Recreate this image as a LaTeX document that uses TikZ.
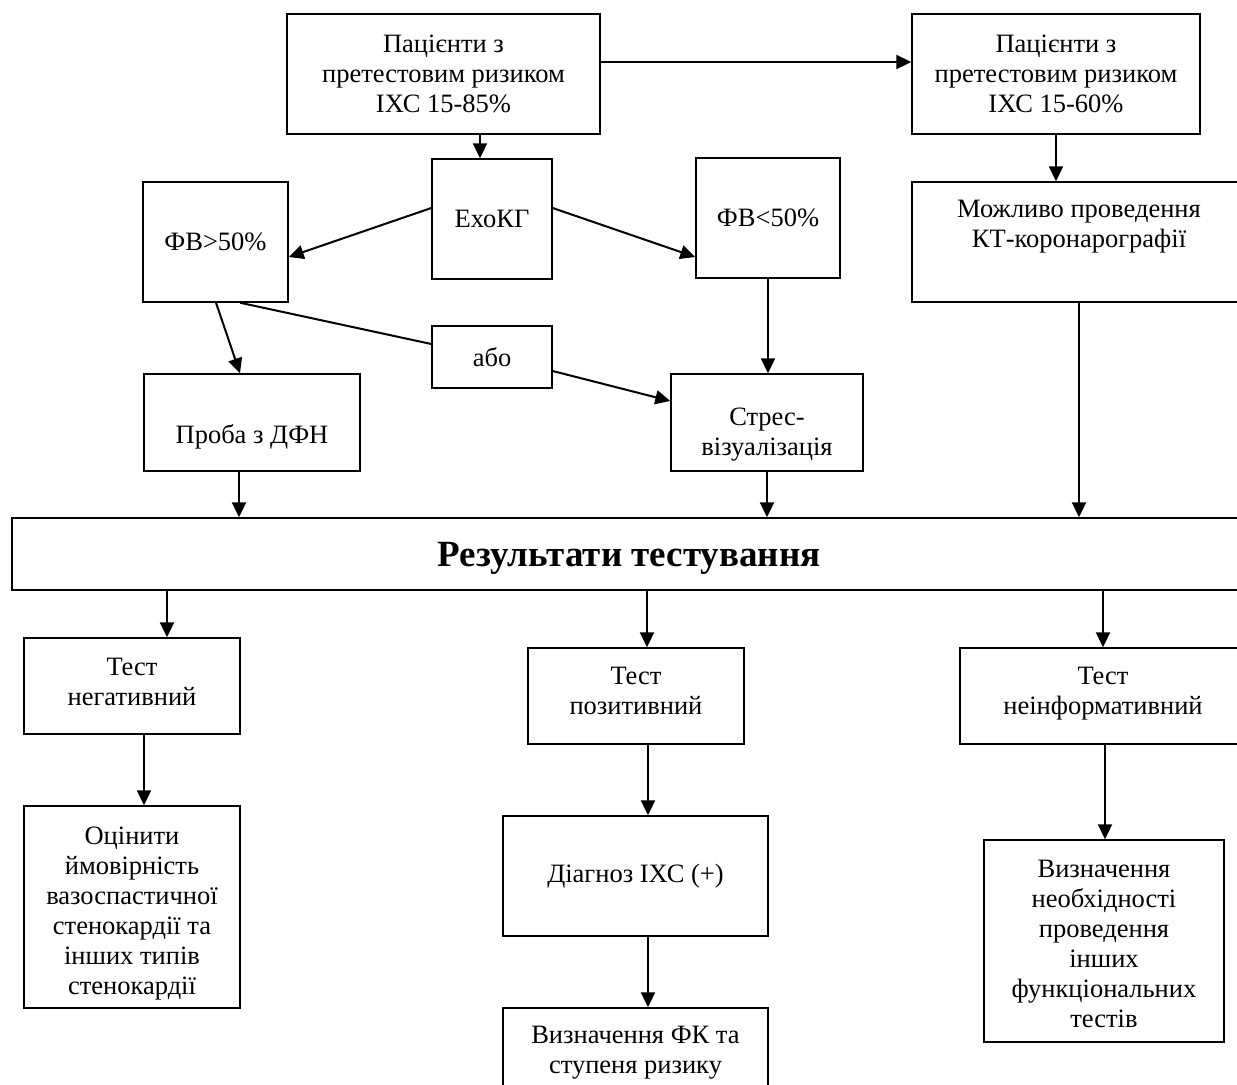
\documentclass[tikz,border=0pt]{standalone}
\usepackage{fontspec}
\setmainfont{Liberation Serif}
\usetikzlibrary{arrows.meta,calc}
\begin{document}
\begin{tikzpicture}[x=0.5pt,y=-0.5pt,
  box/.style={draw, line width=0.7pt, rectangle, inner sep=0pt, align=center, font=\fontsize{13.25}{15}\selectfont},
  txt/.style={font=\fontsize{13.25}{15}\selectfont, align=center, inner sep=0pt},
  arr/.style={-{Triangle[length=7.5pt,width=7pt]}, line width=1pt},
  ln/.style={line width=1pt}]
\useasboundingbox (0,0) rectangle (1237,1084);
\clip (0,0) rectangle (1237,1084);
% boxes
\node[box, minimum width=156.5pt, minimum height=60pt] (A) at (443.5,74) {Пацієнти з\\претестовим ризиком\\ІХС 15-85\%};
\node[box, minimum width=144pt, minimum height=60pt] (B) at (1056,74) {Пацієнти з\\претестовим ризиком\\ІХС 15-60\%};
\node[box, minimum width=60pt, minimum height=60pt] (ECHO) at (492,219) {ЕхоКГ};
\node[box, minimum width=72.5pt, minimum height=60pt] (F50) at (215.5,242) {ФВ>50\%};
\node[box, minimum width=72pt, minimum height=60pt] (L50) at (768,218) {ФВ<50\%};
\node[box, minimum width=167pt, minimum height=60pt,
  label={[txt, name=Ct, yshift=7.5pt]center:Можливо проведення\\КТ-коронарографії}] (C) at (1079,242) {};
\node[box, minimum width=60pt, minimum height=31pt] (OR) at (492,357) {або};
\node[box, minimum width=108pt, minimum height=48.5pt,
  label={[txt, name=Et, yshift=-7pt]center:Проба з ДФН}] (E) at (252,422.5) {};
\node[box, minimum width=96pt, minimum height=48.5pt,
  label={[txt, name=Gt, yshift=-6.25pt]center:Стрес-\\візуалізація}] (G) at (767,422.5) {};
\node[box, minimum width=617pt, minimum height=36pt,
  label={[txt, name=Ht, yshift=-2pt, font=\fontsize{18.5}{20}\selectfont\bfseries]center:Результати тестування}] (H) at (629,554) {};
\node[box, minimum width=108pt, minimum height=48pt,
  label={[txt, name=It, yshift=2.25pt]center:Тест\\негативний}] (I) at (132,686) {};
\node[box, minimum width=108pt, minimum height=101pt,
  label={[txt, name=Jt, yshift=-3.5pt]center:Оцінити\\ймовірність\\вазоспастичної\\стенокардії та\\інших типів\\стенокардії}] (J) at (132,907) {};
\node[box, minimum width=108pt, minimum height=48pt,
  label={[txt, name=Kt, yshift=2.75pt]center:Тест\\позитивний}] (K) at (636,696) {};
\node[box, minimum width=143pt, minimum height=48pt,
  label={[txt, name=Nt, yshift=1pt]center:Тест\\неінформативний}] (N) at (1103,696) {};
\node[box, minimum width=132.5pt, minimum height=60pt] (L) at (635.5,876) {Діагноз ІХС (+)};
\node[box, minimum width=132.5pt, minimum height=41pt,
  label={[txt, name=Mt, yshift=-2pt]center:Визначення ФК та\\ступеня ризику}] (M) at (635.5,1049) {};
\node[box, minimum width=120pt, minimum height=101pt,
  label={[txt, name=Ot, yshift=-1.5pt]center:Визначення\\необхідності\\проведення\\інших\\функціональних\\тестів}] (O) at (1104,941) {};
% connectors
\draw[arr] ([xshift=-6pt]ECHO.north |- A.south) -- ([xshift=-6pt]ECHO.north);
\draw[arr] ([yshift=6pt]A.east) -- ([yshift=6pt]B.west);
\draw[arr] (B.south) -- (B.south |- C.north);
\draw[arr] ([yshift=5.5pt]ECHO.west) -- ([yshift=-7.5pt]F50.east);
\draw[arr] ([yshift=5.5pt]ECHO.east) -- ([yshift=-19.5pt]L50.west);
\draw[arr] ([xshift=0.25pt]F50.south) -- ([xshift=-6pt]E.north);
\draw[ln] ([xshift=12.25pt]F50.south) -- ([yshift=6.5pt]OR.west);
\draw[arr] ([yshift=-7pt]OR.east) -- ([yshift=10.75pt]G.west);
\draw[arr] (L50.south) -- (L50.south |- G.north);
\draw[arr] ([xshift=-6.5pt]E.south) -- ([xshift=-6.5pt]E.south |- H.north);
\draw[arr] (G.south) -- (G.south |- H.north);
\draw[arr] (C.south) -- (C.south |- H.north);
\draw[arr] ([xshift=17.5pt]I.north |- H.south) -- ([xshift=17.5pt]I.north);
\draw[arr] ([xshift=5.5pt]K.north |- H.south) -- ([xshift=5.5pt]K.north);
\draw[arr] (N.north |- H.south) -- (N.north);
\draw[arr] ([xshift=6pt]I.south) -- ([xshift=6pt]I.south |- J.north);
\draw[arr] ([xshift=6pt]K.south) -- ([xshift=6pt]K.south |- L.north);
\draw[arr] ([xshift=6.25pt]L.south) -- ([xshift=6.25pt]L.south |- M.north);
\draw[arr] ([xshift=1pt]N.south) -- ([xshift=1pt]N.south |- O.north);
\end{tikzpicture}
\end{document}
